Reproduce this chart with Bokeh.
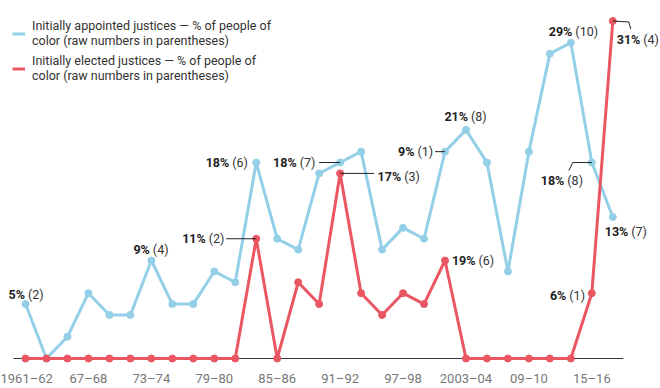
from bokeh.plotting import figure
from bokeh.models import Range1d, FixedTicker, ColumnDataSource, Legend, LegendItem
from bokeh.core.properties import value
from bokeh.embed import file_html
from bokeh.resources import INLINE

# ---------------- data ----------------
seasons = ["1961–62", "1963–64", "1965–66", "1967–68", "1969–70", "1971–72", "1973–74",
           "1975–76", "1977–78", "1979–80", "1981–82", "1983–84", "1985–86", "1987–88",
           "1989–90", "1991–92", "1993–94", "1995–96", "1997–98", "1999–2000", "2001–02",
           "2003–04", "2005–06", "2007–08", "2009–10", "2011–12", "2013–14", "2015–16",
           "2017–18"]
start_years = [1961, 1963, 1965, 1967, 1969, 1971, 1973, 1975, 1977, 1979, 1981, 1983,
               1985, 1987, 1989, 1991, 1993, 1995, 1997, 1999, 2001, 2003, 2005, 2007,
               2009, 2011, 2013, 2015, 2017]
appointed_pct = [5, 0, 2, 6, 4, 4, 9, 5, 5, 8, 7, 18, 11, 10, 17, 18, 19, 10, 12, 11,
                 19, 21, 18, 8, 19, 28, 29, 18, 13]
elected_pct = [0, 0, 0, 0, 0, 0, 0, 0, 0, 0, 0, 11, 0, 7, 5, 17, 6, 4, 6, 5,
               9, 0, 0, 0, 0, 0, 0, 6, 31]

tick_years = [1961, 1967, 1973, 1979, 1985, 1991, 1997, 2003, 2009, 2015]
tick_labels = ["1961–62", "67–68", "73–74", "79–80", "85–86", "91–92", "97–98",
               "2003–04", "09–10", "15–16"]

# annotated points: series, index, bold percentage, count in parentheses
ann_series = ["a", "a", "a", "a", "a", "a", "a", "a", "a", "e", "e", "e", "e", "e"]
ann_index = [0, 6, 11, 15, 20, 21, 26, 27, 28, 11, 15, 20, 27, 28]
ann_pct = ["5%", "9%", "18%", "18%", "9%", "21%", "29%", "18%", "13%",
           "11%", "17%", "19%", "6%", "31%"]
ann_count = ["(2)", "(4)", "(6)", "(7)", "(1)", "(8)", "(10)", "(8)", "(7)",
             "(2)", "(3)", "(6)", "(1)", "(4)"]

# ---------------- layout / style ----------------
W, H = 660, 388
BORDER_BOTTOM = 25
X0, X1 = 1958.616, 2021.548
Y0, Y1 = -0.459, 32.883
PX_YEAR = W / (X1 - X0)
PX_PCT = (H - BORDER_BOTTOM) / (Y1 - Y0)

# label split offsets (px) relative to point: dx, dy (dy positive = down)
ann_offsets = [(1, -10), (0, -11), (-25.5, 0), (-42, 0), (-29, 0), (3.5, -13), (3, -11),
               (-26, 18), (17, 15), (-49, 0), (62.5, 3), (32, 0), (-24, 2), (29, 18)]
# leader lines (px paths relative to point)
leaders = [("a", 15, [(-21, 0), (0, 0)]),
           ("e", 11, [(-30, 0), (0, 0)]),
           ("e", 15, [(0, 0), (34, 0)]),
           ("a", 20, [(-10, 0), (0, 0)]),
           ("a", 27, [(0, 0), (-19, 0), (-23, 8)]),
           ("e", 28, [(0, 0), (16, 1), (18, 8)])]

BLUE = "#94cfe8"
RED = "#ea5661"
FONT = "Roboto"

p = figure(width=W, height=H, output_backend="svg", toolbar_location=None,
           x_range=Range1d(X0, X1), y_range=Range1d(Y0, Y1),
           y_axis_location=None, min_border_left=0, min_border_right=0,
           min_border_top=0, min_border_bottom=BORDER_BOTTOM)
p.outline_line_color = None
p.xgrid.visible = False
p.ygrid.visible = False
p.background_fill_color = "white"
p.border_fill_color = "white"

# baseline
p.segment(x0=[start_years[0] - 12 / PX_YEAR], x1=[start_years[-1] + 10.5 / PX_YEAR],
          y0=[0], y1=[0], line_color="#333333", line_width=1)

src = ColumnDataSource(dict(x=start_years, a=appointed_pct, e=elected_pct, s=seasons))
r_a = p.line("x", "a", source=src, line_color=BLUE, line_width=3, line_join="round")
p.scatter("x", "a", source=src, size=7, fill_color=BLUE, line_color=BLUE)
r_e = p.line("x", "e", source=src, line_color=RED, line_width=3, line_join="round")
p.scatter("x", "e", source=src, size=7, fill_color=RED, line_color=RED)

series = {"a": appointed_pct, "e": elected_pct}

# leaders
lxs, lys = [], []
for s, i, path in leaders:
    lxs.append([start_years[i] + dx / PX_YEAR for dx, dy in path])
    lys.append([series[s][i] - dy / PX_PCT for dx, dy in path])
p.multi_line(lxs, lys, line_color="#222222", line_width=1)

# labels
lx, ly, bxo, nxo, yo = [], [], [], [], []
for s, i, (dx, dy) in zip(ann_series, ann_index, ann_offsets):
    lx.append(start_years[i])
    ly.append(series[s][i])
    bxo.append(dx - 1.5)
    nxo.append(dx + 1.5)
    yo.append(dy)
lsrc = ColumnDataSource(dict(x=lx, y=ly, pct=ann_pct, cnt=ann_count, bxo=bxo, nxo=nxo, yo=yo))
p.text("x", "y", text="pct", source=lsrc, x_offset="bxo", y_offset="yo",
       text_align="right", text_baseline="middle", text_font=value(FONT),
       text_font_style="bold", text_font_size="12.5px", text_color="#222222")
p.text("x", "y", text="cnt", source=lsrc, x_offset="nxo", y_offset="yo",
       text_align="left", text_baseline="middle", text_font=value(FONT),
       text_font_size="12.5px", text_color="#333333")

# axis
ax = p.xaxis[0]
ax.ticker = FixedTicker(ticks=tick_years)
ax.major_label_overrides = {y: l for y, l in zip(tick_years, tick_labels)}
ax.axis_line_color = None
ax.major_tick_line_color = None
ax.minor_tick_line_color = None
ax.major_tick_out = 0
ax.major_tick_in = 0
ax.major_label_standoff = 7
ax.major_label_text_color = "#777777"
ax.major_label_text_font = FONT
ax.major_label_text_font_size = "13px"

legend = Legend(items=[
    LegendItem(label="Initially appointed justices — % of people of\ncolor (raw numbers in parentheses)", renderers=[r_a]),
    LegendItem(label="Initially elected justices — % of people of\ncolor (raw numbers in parentheses)", renderers=[r_e]),
], location=(12, 280))
legend.margin = 0
legend.padding = 0
legend.spacing = 5
legend.glyph_width = 13
legend.glyph_height = 23
legend.label_standoff = 7
legend.label_text_font = FONT
legend.label_text_font_size = "12.5px"
legend.label_text_color = "#333333"
legend.label_text_line_height = 1.36
legend.border_line_color = None
legend.background_fill_alpha = 0
p.add_layout(legend)

open("out.html", "w").write(file_html(p, INLINE))
